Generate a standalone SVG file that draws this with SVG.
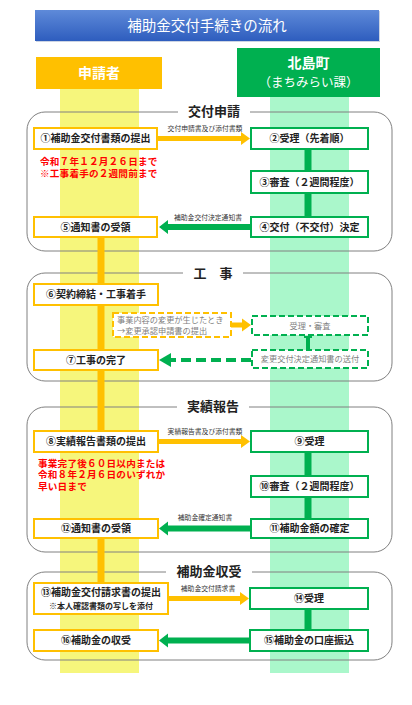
<svg xmlns="http://www.w3.org/2000/svg" width="412" height="705" viewBox="0 0 412 705">
<style>
text{font-family:"Noto Sans CJK JP","Noto Sans",sans-serif;}
.bt{font-size:10px;font-weight:700;fill:#222;text-anchor:middle;}
.sl{font-size:13px;font-weight:700;fill:#222;text-anchor:middle;}
.al{font-size:6.8px;fill:#333;text-anchor:middle;}
.red{font-family:"Liberation Sans","Noto Sans CJK JP",sans-serif;font-size:9.6px;font-weight:700;fill:#FF0000;letter-spacing:0.2px;}
.gt{font-size:8.2px;fill:#7f7f7f;}
.ob{fill:#fff;stroke:#FFC000;stroke-width:2;}
.gb{fill:#fff;stroke:#00B050;stroke-width:2;}
.odb{fill:#fff;stroke:#FFC000;stroke-width:2;stroke-dasharray:6 3;}
.gdb{fill:#fff;stroke:#00B050;stroke-width:2;stroke-dasharray:6 3;}
.sec{fill:none;stroke:#808080;stroke-width:1;}
.ov{stroke:#FFC000;stroke-width:7;}
.gv{stroke:#00B050;stroke-width:7;}
.oa{fill:#FFC000;}
.ga{fill:#00B050;}
</style>
<defs>
<linearGradient id="tg" x1="0" y1="0" x2="0" y2="1">
<stop offset="0" stop-color="#5E8AD9"/>
<stop offset="1" stop-color="#2E5DBE"/>
</linearGradient>
</defs>
<rect width="412" height="705" fill="#fff"/>

<g id="title">
<rect x="36" y="11" width="344" height="31" fill="#9aa9c8" opacity="0.5"/>
<rect x="35" y="10" width="344" height="31" fill="url(#tg)"/>
<text x="207" y="30.5" font-size="14.5" fill="#fff" text-anchor="middle">補助金交付手続きの流れ</text>
</g>

<g id="lanes">
<rect x="60" y="89" width="79" height="584" fill="#F6F67C"/>
<rect x="270" y="97" width="79" height="576" fill="#AAF7CB"/>
<g id="lane-applicant">
<rect x="36" y="57" width="126" height="32" fill="#FFC000"/>
<text x="99" y="78" font-size="14" font-weight="700" fill="#fff" text-anchor="middle">申請者</text>
</g>
<g id="lane-town">
<rect x="237" y="48" width="143" height="49" fill="#00B050"/>
<text x="308.5" y="68" font-size="14" font-weight="700" fill="#fff" text-anchor="middle">北島町</text>
<text x="308.5" y="86.5" font-size="12.5" fill="#fff" text-anchor="middle">（まちみらい課）</text>
</g>
</g>

<g id="sections">
<rect class="sec" x="27" y="112" width="365" height="139" rx="18"/>
<rect x="178" y="104" width="72" height="14" fill="#fff"/>
<text class="sl" x="214" y="116">交付申請</text>
<rect class="sec" x="27" y="273" width="365" height="108" rx="18"/>
<rect x="183" y="265" width="60" height="14" fill="#fff"/>
<text class="sl" x="213" y="278">工　事</text>
<rect class="sec" x="27" y="407" width="365" height="145" rx="18"/>
<rect x="177" y="399" width="72" height="14" fill="#fff"/>
<text class="sl" x="213" y="411">実績報告</text>
<rect class="sec" x="27" y="572" width="365" height="88" rx="18"/>
<rect x="166" y="564" width="86" height="14" fill="#fff"/>
<text class="sl" x="209" y="576">補助金収受</text>
</g>

<g id="connectors">
<line class="ov" x1="101" y1="237" x2="101" y2="431"/>
<line class="ov" x1="101" y1="538" x2="101" y2="583"/>
<line class="gv" x1="308" y1="149" x2="308" y2="171"/>
<line class="gv" x1="308" y1="193" x2="308" y2="217"/>
<line class="gv" x1="308" y1="452" x2="308" y2="476"/>
<line class="gv" x1="308" y1="497" x2="308" y2="519"/>
<line class="gv" x1="308" y1="609" x2="308" y2="630"/>
<line stroke="#00B050" stroke-width="4" x1="308" y1="336" x2="308" y2="349"/>
<rect x="304" y="336" width="8" height="2" fill="#00B050"/>
<polygon class="oa" points="157,136 241,136 241,132 250,138.5 241,145 241,141 157,141"/>
<text class="al" x="205" y="131">交付申請書及び添付書類</text>
<polygon class="ga" points="251,224 168,224 168,220 159,227 168,234 168,230 251,230"/>
<text class="al" x="208" y="219.5">補助金交付決定通知書</text>
<polygon class="oa" points="231,322.5 242,322.5 242,318.5 251,325 242,331.5 242,327.5 231,327.5"/>
<line x1="251" y1="360" x2="170" y2="360" stroke="#00B050" stroke-width="4" stroke-dasharray="10 5"/>
<polygon class="ga" points="171,353 159,360 171,367"/>
<polygon class="oa" points="158,439 241,439 241,435 250,441.5 241,448 241,444 158,444"/>
<text class="al" x="205" y="433.5">実績報告書及び添付書類</text>
<polygon class="ga" points="251,525.5 168,525.5 168,521.5 159,528.5 168,535.5 168,531.5 251,531.5"/>
<text class="al" x="205" y="520">補助金確定通知書</text>
<polygon class="oa" points="168,596 240,596 240,592 249,598.5 240,605 240,601 168,601"/>
<text class="al" x="208" y="590.5">補助金交付請求書</text>
<polygon class="ga" points="250,637.5 168,637.5 168,633.5 159,640.5 168,647.5 168,643.5 250,643.5"/>
</g>

<g id="n1"><rect class="ob" x="34" y="128" width="123" height="21"/><text class="bt" x="95.5" y="142">①補助金交付書類の提出</text></g>
<g id="note1">
<text class="red"><tspan x="40" y="165">令和７年１２月２６日まで</tspan><tspan x="40" y="176.5">※工事着手の２週間前まで</tspan></text>
</g>
<g id="n2"><rect class="gb" x="251" y="128" width="117" height="21"/><text class="bt" x="309.5" y="142">②受理（先着順）</text></g>
<g id="n3"><rect class="gb" x="251" y="171" width="117" height="22"/><text class="bt" x="309.5" y="185.5">③審査（２週間程度）</text></g>
<g id="n4"><rect class="gb" x="251" y="217" width="117" height="20"/><text class="bt" x="309.5" y="230.5">④交付（不交付）決定</text></g>
<g id="n5"><rect class="ob" x="34" y="217" width="123" height="20"/><text class="bt" x="95.5" y="230.5">⑤通知書の受領</text></g>

<g id="n6"><rect class="ob" x="34" y="284" width="124" height="21"/><text class="bt" x="96" y="298">⑥契約締結・工事着手</text></g>
<g id="n-change"><rect class="odb" x="113" y="313" width="118" height="24"/>
<text class="gt"><tspan x="117" y="322.5">事業内容の変更が生じたとき</tspan><tspan x="117" y="334">→変更承認申請書の提出</tspan></text></g>
<g id="n-review"><rect class="gdb" x="252" y="316" width="116" height="19"/><text class="gt" x="310" y="328.5" text-anchor="middle">受理・審査</text></g>
<g id="n-notice"><rect class="gdb" x="252" y="350" width="116" height="18"/><text class="gt" x="310" y="362" text-anchor="middle">変更交付決定通知書の送付</text></g>
<g id="n7"><rect class="ob" x="34" y="350" width="124" height="20"/><text class="bt" x="96" y="363.5">⑦工事の完了</text></g>

<g id="n8"><rect class="ob" x="34" y="431" width="124" height="21"/><text class="bt" x="96" y="445">⑧実績報告書類の提出</text></g>
<g id="note2">
<text class="red"><tspan x="38" y="466.5">事業完了後６０日以内または</tspan><tspan x="38" y="478">令和８年２月６日のいずれか</tspan><tspan x="38" y="489.5">早い日まで</tspan></text>
</g>
<g id="n9"><rect class="gb" x="251" y="431" width="117" height="21"/><text class="bt" x="309.5" y="445">⑨受理</text></g>
<g id="n10"><rect class="gb" x="251" y="476" width="117" height="21"/><text class="bt" x="309.5" y="490">⑩審査（２週間程度）</text></g>
<g id="n11"><rect class="gb" x="251" y="519" width="117" height="19"/><text class="bt" x="309.5" y="532">⑪補助金額の確定</text></g>
<g id="n12"><rect class="ob" x="34" y="519" width="124" height="19"/><text class="bt" x="96" y="532">⑫通知書の受領</text></g>

<g id="n13"><rect class="ob" x="34" y="583" width="134" height="31"/>
<text class="bt"><tspan x="101" y="596">⑬補助金交付請求書の提出</tspan><tspan x="101" y="608.5" font-size="8">※本人確認書類の写しを添付</tspan></text></g>
<g id="n14"><rect class="gb" x="250" y="588" width="118" height="21"/><text class="bt" x="309" y="602">⑭受理</text></g>
<g id="n15"><rect class="gb" x="250" y="630" width="118" height="21"/><text class="bt" x="309" y="644">⑮補助金の口座振込</text></g>
<g id="n16"><rect class="ob" x="34" y="630" width="124" height="21"/><text class="bt" x="96" y="644">⑯補助金の収受</text></g>
</svg>
